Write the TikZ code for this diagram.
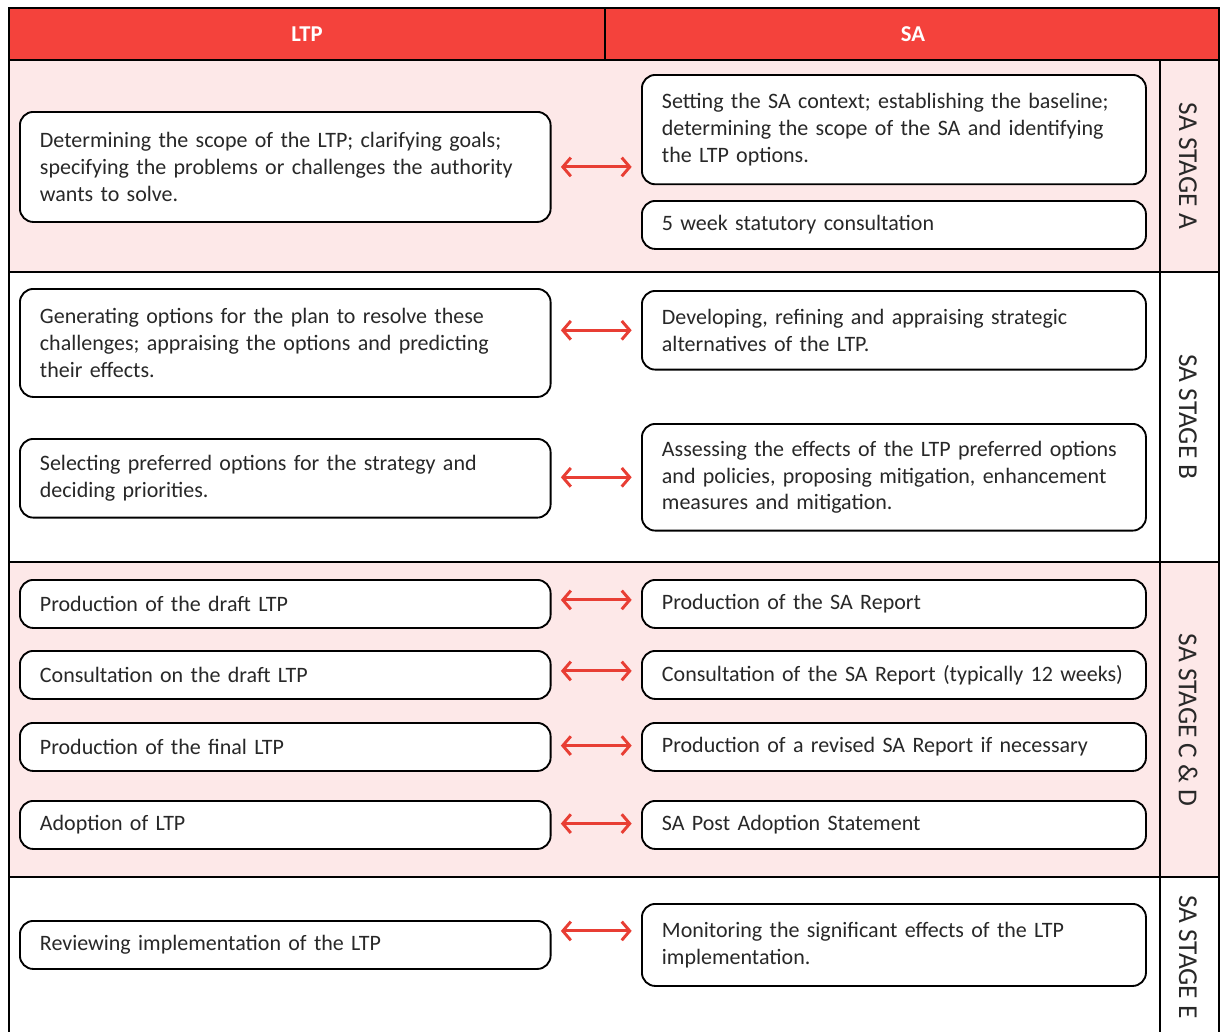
\documentclass[tikz,border=0pt]{standalone}
\usepackage{fontspec}
\setmainfont{Carlito}
\usepackage{tikz}
\usetikzlibrary{arrows.meta}

\definecolor{hdrred}{RGB}{244,66,60}
\definecolor{bandpink}{RGB}{253,232,232}
\definecolor{linkred}{RGB}{232,62,52}
\definecolor{txtgray}{RGB}{40,40,40}

\tikzset{
  stepbox/.style={draw=black, line width=1.4pt, fill=white, rounded corners=10pt,
    anchor=north west, align=left, inner xsep=15pt, inner ysep=0pt,
    text=txtgray, font=\fontsize{16.5}{19.9}\selectfont},
  ltpbox/.style={stepbox, text width=368pt},
  sabox/.style={stepbox, text width=348pt},
  linkarrow/.style={draw=linkred, line width=2.2pt,
    {Straight Barb[length=6pt,width=14pt]}-{Straight Barb[length=6pt,width=14pt]},
    shorten <=7pt, shorten >=7pt},
  stagelbl/.style={rotate=-90, text=txtgray, font=\fontsize{20.5}{24}\selectfont},
  hdrlbl/.style={text=white, font=\fontsize{17}{20}\selectfont\bfseries}
}

\begin{document}
\begin{tikzpicture}[x=0.75pt,y=0.75pt,yscale=-1,xscale=1]
\useasboundingbox (0,0) rectangle (1226,1032);

%Shape: bands
\fill[bandpink] (9,60) rectangle (1219,272);
\fill[bandpink] (9,562) rectangle (1219,877);
%Shape: header
\draw[fill=hdrred, line width=1.5pt] (9,8) rectangle (1219,60);
\draw[line width=1.5pt] (605,8) -- (605,60);
%Straight Lines: grid
\draw[line width=1.5pt] (9,60) -- (9,1032);
\draw[line width=1.5pt] (1219,60) -- (1219,1032);
\draw[line width=1.5pt] (1160,60) -- (1160,1032);
\draw[line width=1.5pt] (9,272) -- (1219,272);
\draw[line width=1.5pt] (9,562) -- (1219,562);
\draw[line width=1.5pt] (9,877) -- (1219,877);

% Text Node: header
\node[hdrlbl] (hdrLTP) at (307,34) {LTP};
\node[hdrlbl] (hdrSA) at (913,34) {SA};

% Stage A
\node[ltpbox, minimum height=82.5pt] (ltpA) at (19,111) {Determining the scope of the LTP; clarifying goals;\\ specifying the problems or challenges the authority\\ wants to solve.};
\node[sabox, minimum height=82pt] (saA) at (641,74) {Setting the SA context; establishing the baseline;\\ determining the scope of the SA and identifying\\ the LTP options.};
\node[sabox, minimum height=36pt] (saAcons) at (641,200) {5 week statutory consultation};

% Stage B
\node[ltpbox, minimum height=81pt] (ltpB1) at (19,288) {Generating options for the plan to resolve these\\ challenges; appraising the options and predicting\\ their effects.};
\node[sabox, minimum height=59pt] (saB1) at (641,290) {Developing, refining and appraising strategic\\ alternatives of the LTP.};
\node[ltpbox, minimum height=59pt] (ltpB2) at (19,438) {Selecting preferred options for the strategy and\\ deciding priorities.};
\node[sabox, minimum height=80pt] (saB2) at (641,423) {Assessing the effects of the LTP preferred options\\ and policies, proposing mitigation, enhancement\\ measures and mitigation.};

% Stage C & D
\node[ltpbox, minimum height=36pt] (ltpC1) at (19,579) {Production of the draft LTP};
\node[sabox, minimum height=36pt] (saC1) at (641,579) {Production of the SA Report};
\node[ltpbox, minimum height=36pt] (ltpC2) at (19,650) {Consultation on the draft LTP};
\node[sabox, minimum height=36pt] (saC2) at (641,650) {Consultation of the SA Report (typically 12 weeks)};
\node[ltpbox, minimum height=36pt] (ltpC3) at (19,722) {Production of the final LTP};
\node[sabox, minimum height=36pt] (saC3) at (641,722) {Production of a revised SA Report if necessary};
\node[ltpbox, minimum height=36pt] (ltpC4) at (19,800) {Adoption of LTP};
\node[sabox, minimum height=36pt] (saC4) at (641,800) {SA Post Adoption Statement};

% Stage E
\node[ltpbox, minimum height=36pt] (ltpE) at (19,920) {Reviewing implementation of the LTP};
\node[sabox, minimum height=61.5pt] (saE) at (641,903) {Monitoring the significant effects of the LTP\\ implementation.};

% Arrows
\draw[linkarrow] (ltpA.east) -- (ltpA.east -| saA.west);
\draw[linkarrow] (saB1.west -| ltpB1.east) -- (saB1.west);
\draw[linkarrow] (saB2.west -| ltpB2.east) -- (saB2.west);
\draw[linkarrow] ([yshift=-3pt]ltpC1.east) -- ([yshift=-3pt]saC1.west);
\draw[linkarrow] ([yshift=-3pt]ltpC2.east) -- ([yshift=-3pt]saC2.west);
\draw[linkarrow] ([yshift=-1pt]ltpC3.east) -- ([yshift=-1pt]saC3.west);
\draw[linkarrow] ([yshift=-1pt]ltpC4.east) -- ([yshift=-1pt]saC4.west);
\draw[linkarrow] ([yshift=-10.5pt]ltpE.east) -- ([yshift=-10.5pt]saE.west);

% Text Node: stages
\node[stagelbl] (stgA) at (1188,166) {SA STAGE A};
\node[stagelbl] (stgB) at (1188,417) {SA STAGE B};
\node[stagelbl] (stgCD) at (1188,720) {SA STAGE C \& D};
\node[stagelbl] (stgE) at (1188,957) {SA STAGE E};

\end{tikzpicture}
\end{document}
